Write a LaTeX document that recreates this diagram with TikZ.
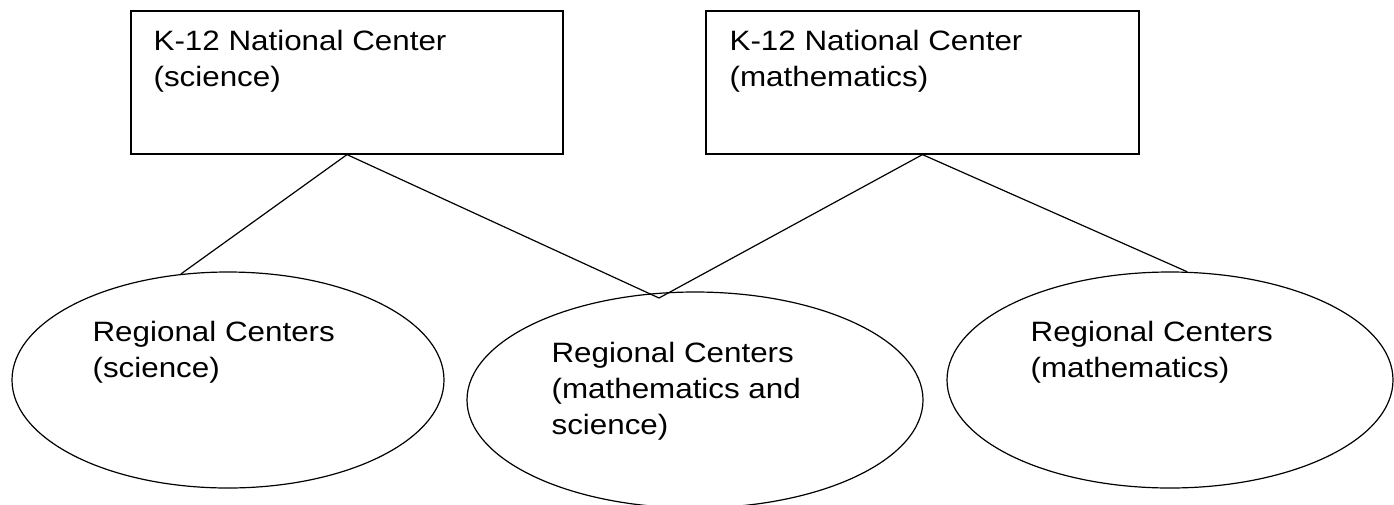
\documentclass[tikz,border=0pt]{standalone}
\usepackage{fontspec}
\setmainfont{Liberation Sans}[FakeStretch=1.12]
\usetikzlibrary{shapes.geometric}
\begin{document}
\begin{tikzpicture}[x=1pt,y=-1pt,
  every path/.style={line width=1.2pt},
  centerbox/.style={draw, rectangle, inner sep=0pt, minimum height=143pt},
  regoval/.style={draw, ellipse, inner sep=0pt, minimum height=216pt},
  lbl/.style={anchor=north west, inner sep=0pt, align=left,
    font=\fontsize{28}{36}\selectfont},
  link/.style={draw, line width=1.2pt}]
\useasboundingbox (0,0) rectangle (1394,504);
% boxes
\node[centerbox, minimum width=432pt] (box1) at (347,82.5) {};
\node[centerbox, minimum width=433pt] (box2) at (922.5,82.5) {};
% ellipses
\node[regoval, minimum width=432pt] (e1) at (228,380) {};
\node[regoval, minimum width=456pt] (e2) at (695,400) {};
\node[regoval, minimum width=446pt] (e3) at (1170,380) {};
% labels
\node[lbl] (t1) at (153,30) {K-12 National Center\\(science)};
\node[lbl] (t2) at (729,30) {K-12 National Center\\(mathematics)};
\node[lbl] (t3) at (92,321) {Regional Centers\\(science)};
\node[lbl] (t4) at (551,341.5) {Regional Centers\\(mathematics and\\science)};
\node[lbl] (t5) at (1030,321) {Regional Centers\\(mathematics)};
% connectors
\coordinate (meet) at (659,298);
\draw[link] (box1.south) -- (e1.114);
\draw[link] (box1.south) -- (meet);
\draw[link] (box2.south) -- (meet);
\draw[link] (box2.south) -- (e3.81);
\end{tikzpicture}
\end{document}
